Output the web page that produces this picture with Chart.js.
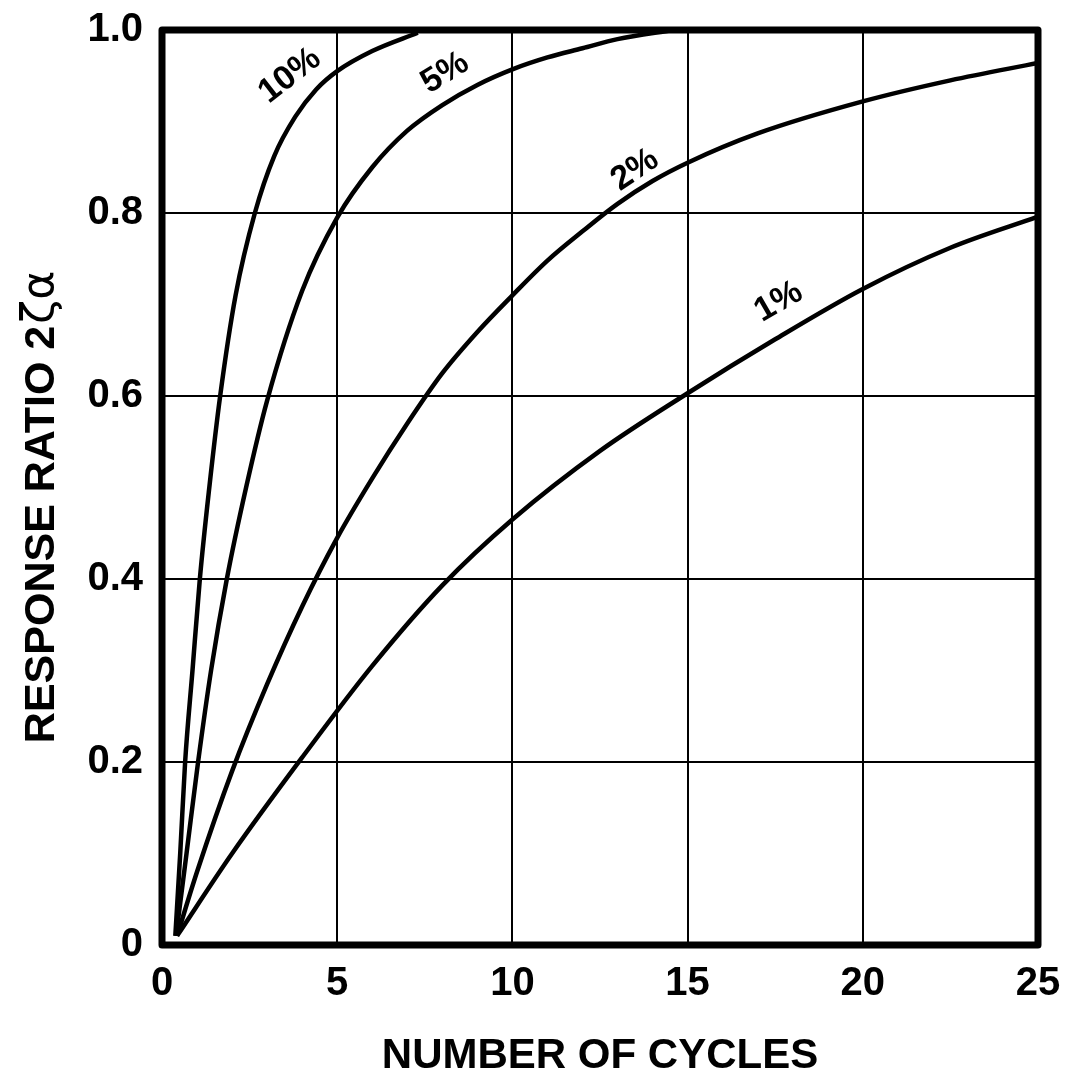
<!DOCTYPE html>
<html>
<head>
<meta charset="utf-8">
<script src="https://cdn.jsdelivr.net/npm/chart.js@4.4.1/dist/chart.umd.min.js"></script>
<style>
  html, body { margin: 0; padding: 0; background: #fff; }
  #wrap { width: 1068px; height: 1086px; }
</style>
</head>
<body>
<div id="wrap"><canvas id="response-chart" width="1068" height="1086"></canvas></div>
<script>
// 各阻尼比下的響應曲線 (x: 週期數, y: 響應比)
const cycles10 = [0.38, 0.52, 0.66, 0.87, 1.08, 1.35, 1.66, 2.1, 2.65, 3.2, 3.8, 4.4, 5, 6, 7.3];
const ratio10 = [0.01, 0.10, 0.20, 0.30, 0.40, 0.50, 0.60, 0.71, 0.80, 0.862, 0.905, 0.935, 0.955, 0.977, 0.997];

const cycles5 = [0.4, 0.7, 1.03, 1.4, 1.85, 2.4, 3, 4, 5, 6, 7, 8, 9, 10, 11, 12, 13, 14.6];
const ratio5 = [0.01, 0.10, 0.20, 0.30, 0.40, 0.50, 0.595, 0.715, 0.795, 0.85, 0.89, 0.918, 0.94, 0.957, 0.97, 0.98, 0.99, 1.0];

const cycles2 = [0.43, 1, 2, 3, 4, 5, 6, 7, 8, 9, 10, 11, 12, 13, 14, 15, 17, 20, 22.5, 25];
const ratio2 = [0.01, 0.08, 0.19, 0.285, 0.37, 0.445, 0.51, 0.57, 0.625, 0.67, 0.71, 0.748, 0.78, 0.81, 0.835, 0.855, 0.887, 0.922, 0.945, 0.964];

const cycles1 = [0.43, 2, 4, 6, 8, 10, 12.5, 15, 17.5, 20, 22.5, 25];
const ratio1 = [0.01, 0.10, 0.205, 0.305, 0.393, 0.465, 0.54, 0.603, 0.662, 0.717, 0.762, 0.796];

const xTicks = [0, 5, 10, 15, 20, 25];
const yTicks = [0, 0.2, 0.4, 0.6, 0.8, 1.0];
const yTickLabels = ['0', '0.2', '0.4', '0.6', '0.8', '1.0'];

const curveNames = ['10%', '5%', '2%', '1%'];

// 曲線標籤位置 (資料座標) 與角度
const labelAnchors = [
    { x: 3.65, y: 0.950, angle: -38 },
    { x: 8.08, y: 0.953, angle: -32 },
    { x: 13.5, y: 0.847, angle: -34 },
    { x: 17.6, y: 0.703, angle: -30 }
];

const FONT = '"Liberation Sans", Arial, sans-serif';

function toPoints(xs, ys) {
    return xs.map((x, i) => ({ x: x, y: ys[i] }));
}

// 取消刻度文字造成的額外邊距，讓 layout.padding 決定繪圖區
function noLabelPadding(scale) {
    scale.paddingTop = 0;
    scale.paddingBottom = 0;
    scale.paddingLeft = 0;
    scale.paddingRight = 0;
}

// 外框與曲線標籤
const framePlugin = {
    id: 'frame',
    afterDatasetsDraw(chart) {
        const { ctx, chartArea: a, scales } = chart;
        ctx.save();
        ctx.strokeStyle = '#000';
        ctx.lineWidth = 7;
        ctx.lineJoin = 'round';
        ctx.strokeRect(a.left, a.top, a.right - a.left, a.bottom - a.top);

        ctx.fillStyle = '#000';
        ctx.font = 'bold 34px ' + FONT;
        ctx.textAlign = 'center';
        ctx.textBaseline = 'middle';
        curveNames.forEach((name, i) => {
            const p = labelAnchors[i];
            ctx.save();
            ctx.translate(scales.x.getPixelForValue(p.x), scales.y.getPixelForValue(p.y));
            ctx.rotate(p.angle * Math.PI / 180);
            ctx.fillText(name, 0, 0);
            ctx.restore();
        });
        ctx.restore();
    },
    afterDraw(chart) {
        // Y 軸標題：粗體文字加上希臘字母
        const { ctx } = chart;
        const main = 'RESPONSE RATIO 2';
        const greek = 'ζα';
        ctx.save();
        ctx.fillStyle = '#000';
        ctx.textBaseline = 'middle';
        ctx.textAlign = 'left';
        ctx.translate(42, 508);
        ctx.rotate(-Math.PI / 2);
        ctx.font = 'bold 43px ' + FONT;
        const w1 = ctx.measureText(main).width;
        ctx.font = '44px "DejaVu Sans", ' + FONT;
        const w2 = ctx.measureText(greek).width;
        const start = -(w1 + w2) / 2;
        ctx.font = 'bold 43px ' + FONT;
        ctx.fillText(main, start, 0);
        ctx.font = '44px "DejaVu Sans", ' + FONT;
        ctx.fillText(greek, start + w1 + 2, 0);
        ctx.restore();
    }
};

function lineSet(label, xs, ys) {
    return {
        label: label,
        data: toPoints(xs, ys),
        borderColor: '#000',
        borderWidth: 4.5,
        pointRadius: 0,
        fill: false,
        showLine: true,
        cubicInterpolationMode: 'monotone'
    };
}

function initChart() {
    const ctx = document.getElementById('response-chart').getContext('2d');
    new Chart(ctx, {
        type: 'scatter',
        data: {
            datasets: [
                lineSet('10%', cycles10, ratio10),
                lineSet('5%', cycles5, ratio5),
                lineSet('2%', cycles2, ratio2),
                lineSet('1%', cycles1, ratio1)
            ]
        },
        options: {
            responsive: false,
            animation: false,
            layout: { padding: { left: 0, top: 30, right: 30, bottom: 0 } },
            plugins: {
                legend: { display: false },
                tooltip: { enabled: false }
            },
            scales: {
                x: {
                    type: 'linear',
                    min: 0,
                    max: 25,
                    afterBuildTicks(scale) {
                        scale.ticks = xTicks.map(v => ({ value: v }));
                    },
                    afterFit(scale) {
                        scale.height = 141;
                        noLabelPadding(scale);
                    },
                    grid: { color: '#000', lineWidth: 2, drawTicks: false },
                    border: { display: false },
                    ticks: {
                        color: '#000',
                        padding: 15,
                        font: { family: FONT, size: 40, weight: 'bold' },
                        callback: v => String(v)
                    },
                    title: {
                        display: true,
                        text: 'NUMBER OF CYCLES',
                        color: '#000',
                        padding: { top: 0, bottom: 4 },
                        font: { family: FONT, size: 42, weight: 'bold' }
                    }
                },
                y: {
                    type: 'linear',
                    min: 0,
                    max: 1,
                    afterBuildTicks(scale) {
                        scale.ticks = yTicks.map(v => ({ value: v }));
                    },
                    afterFit(scale) {
                        scale.width = 162;
                        noLabelPadding(scale);
                    },
                    grid: { color: '#000', lineWidth: 2, drawTicks: false },
                    border: { display: false },
                    ticks: {
                        color: '#000',
                        padding: 19,
                        font: { family: FONT, size: 40, weight: 'bold' },
                        callback: v => yTickLabels[yTicks.indexOf(v)] ?? ''
                    }
                }
            }
        },
        plugins: [framePlugin]
    });
}

document.addEventListener('DOMContentLoaded', () => {
    initChart();
});
</script>
</body>
</html>
